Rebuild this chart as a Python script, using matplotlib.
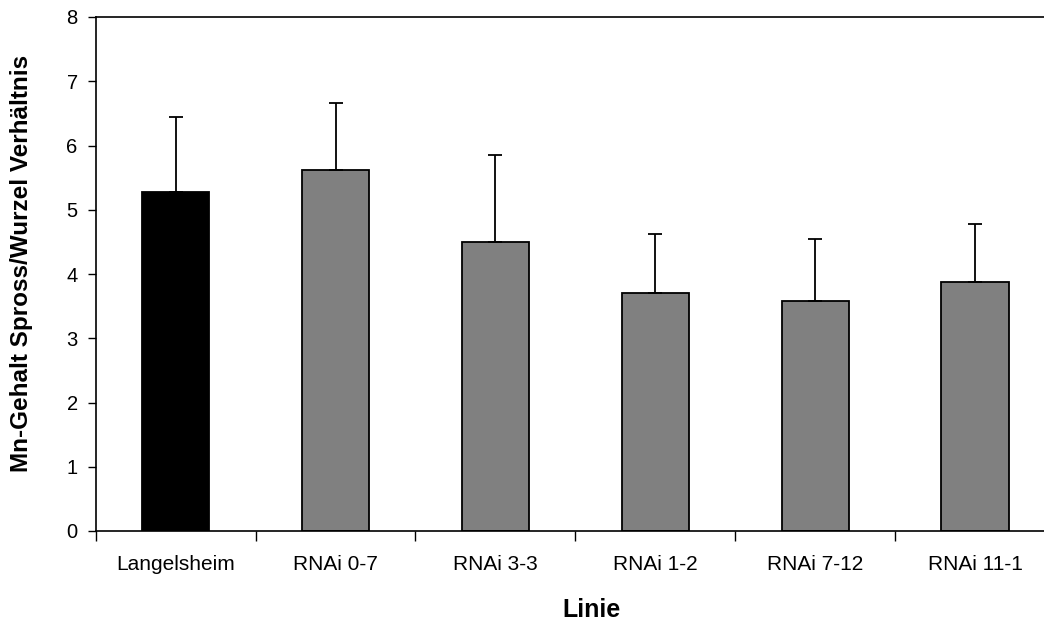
import matplotlib
matplotlib.use("Agg")
import matplotlib.pyplot as plt
import numpy as np

plt.rcParams['font.family'] = ['Liberation Sans', 'DejaVu Sans']

categories = ["Langelsheim", "RNAi 0-7", "RNAi 3-3", "RNAi 1-2", "RNAi 7-12", "RNAi 11-1"]
values = [5.28, 5.62, 4.50, 3.71, 3.58, 3.87]
err_upper = [1.17, 1.04, 1.35, 0.92, 0.96, 0.91]
colors = ["#000000", "#808080", "#808080", "#808080", "#808080", "#808080"]

fig = plt.figure(figsize=(10.44, 6.25), dpi=100)
W, H = 1044, 625
left, right, top, bottom = 95.7, 1055.0, 17.0, 531.0
ax = fig.add_axes([left / W, 1 - bottom / H, (right - left) / W, (bottom - top) / H])

x = np.arange(len(categories))
ax.bar(x, values, width=0.42, color=colors, edgecolor="black", linewidth=1.3, zorder=2)
ax.errorbar(x, values, yerr=[np.zeros(len(values)), err_upper], fmt="none",
            ecolor="black", elinewidth=1.3, capsize=4.7, capthick=1.3, zorder=3)

ax.set_xlim(-0.5, len(categories) - 0.5)
ax.set_ylim(0, 8)
ax.set_yticks(range(0, 9))
ax.set_xticks(np.arange(-0.5, len(categories), 1.0))
ax.set_xticklabels([])
ax.set_xticks(x, minor=True)
ax.set_xticklabels(categories, minor=True)
ax.tick_params(axis="x", which="minor", length=0, pad=17, labelsize=15)
ax.tick_params(axis="x", which="major", length=7, width=1, direction="out")
ax.tick_params(axis="y", length=6, width=1, direction="out", labelsize=14.5, pad=7)

for s in ["left", "top", "bottom"]:
    ax.spines[s].set_linewidth(1.2)
ax.spines["right"].set_visible(False)

fig.text(22 / W, 1 - 263 / H, "Mn-Gehalt Spross/Wurzel Verhältnis", fontsize=17.5,
         fontweight="bold", rotation=90, ha="center", va="center")
fig.text(591 / W, 1 - 610 / H, "Linie", fontsize=18, fontweight="bold",
         ha="center", va="center")

fig.savefig("out.png", dpi=100)
